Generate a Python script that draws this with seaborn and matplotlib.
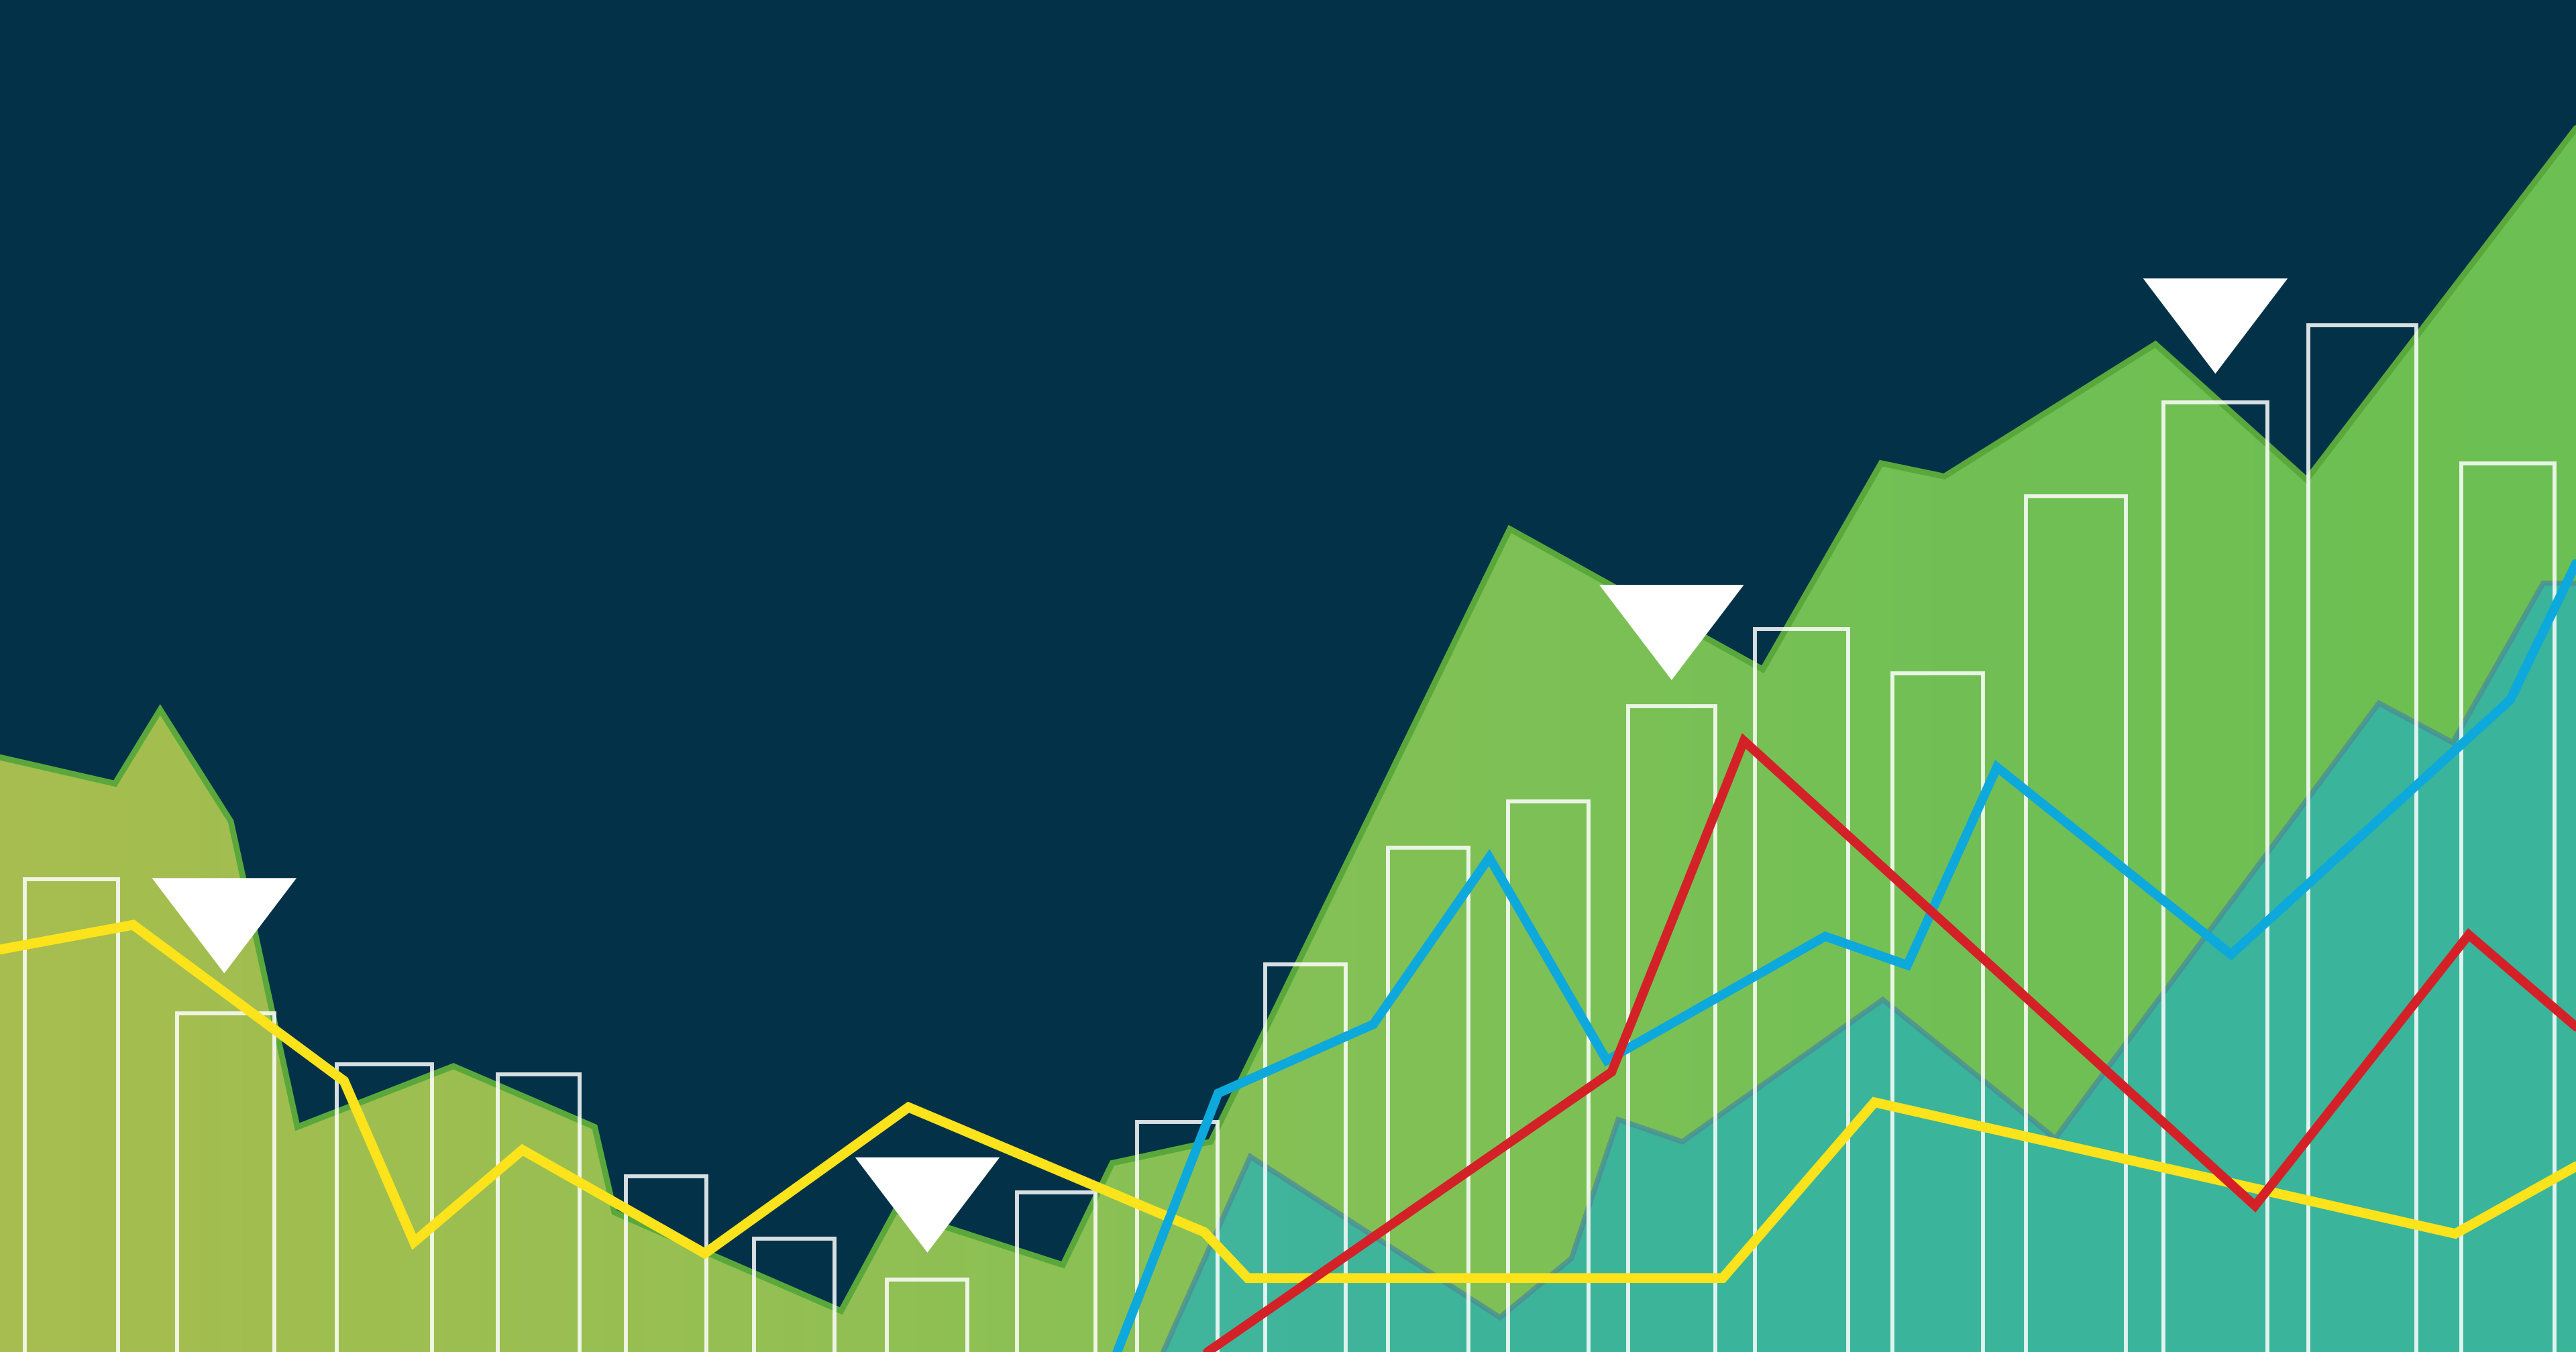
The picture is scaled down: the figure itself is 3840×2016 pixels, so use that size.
import numpy as np
import pandas as pd
import matplotlib
matplotlib.use("Agg")
import matplotlib.pyplot as plt
import seaborn as sns
from matplotlib.colors import LinearSegmentedColormap

# ---------------- data ----------------
# canvas value space: x 0..1568, y 0..823
green_x = [0, 70, 97.5, 140.5, 181, 276, 362, 374, 512, 545, 647, 677, 737, 919, 1073, 1145, 1183.5, 1312, 1404, 1568]
green_y = [362, 346, 391, 323, 137, 174, 137, 85, 25, 86, 53, 115, 128, 501, 415.5, 541, 533, 613.5, 531, 745]

teal_x = [708, 761, 913, 956.5, 985, 1024, 1146, 1251, 1448, 1493, 1548, 1568]
teal_y = [0, 119, 21, 57, 141.5, 128, 214.5, 130, 395, 371, 468, 468]

yellow_x = [0, 81, 209.4, 252, 318, 429, 553, 733, 759.5, 1048.6, 1141, 1494.5, 1568]
yellow_y = [245, 260, 165, 67, 123, 60, 149, 73, 45, 45, 152, 72, 113]

blue_x = [680, 741.5, 836, 906.5, 978, 1111, 1161, 1215.5, 1358, 1528, 1568]
blue_y = [0, 157.5, 199.5, 301, 177.5, 253, 235.5, 356, 242, 397, 480]

red_x = [735, 981, 1061.5, 1372.6, 1502.7, 1568]
red_y = [0, 170.5, 372, 89, 254, 198]

bar_left = [15, 108, 205, 303, 381, 459, 540, 619, 692, 770, 845, 918, 991, 1068, 1152, 1233, 1317, 1405, 1498]
bar_right = [72, 167, 263, 353, 430, 508, 589, 667, 741, 819, 894, 967, 1044, 1125, 1207, 1294, 1380, 1471, 1555]
bar_height = [288, 206, 175, 169, 107, 69, 44, 97, 140, 236, 307, 335, 393, 440, 413, 521, 578, 625, 541]

tri_x = [136.5, 564.5, 1017.5, 1348.5]
tri_y = [259.5, 89.5, 438, 624.5]

# ---------------- style ----------------
BG = "#033248"
W, H = 1568, 823
DPI = 200
PT = (3840 / W) * 72 / DPI  # points per canvas unit

sns.set_theme(style="white")
fig = plt.figure(figsize=(3840 / DPI, 2016 / DPI), dpi=DPI, facecolor=BG)
ax = fig.add_axes([0, 0, 1, 1])
ax.set_facecolor(BG)

def gradient_fill(x, y, colors, z):
    poly = ax.fill_between(x, y, -20, color="none", lw=0, zorder=z)
    cmap = LinearSegmentedColormap.from_list("c", colors)
    grad = np.linspace(0, 1, 1024).reshape(1, -1)
    im = ax.imshow(grad, cmap=cmap, extent=[0, W, -20, H], aspect="auto", zorder=z)
    im.set_clip_path(poly.get_paths()[0], transform=ax.transData)

# green area
gradient_fill(green_x, green_y, ["#a8bd4f", "#98bf52", "#85c156", "#72c055", "#6cbf52"], 1)
sns.lineplot(x=green_x, y=green_y, sort=False, estimator=None, color="#5aa83c",
             lw=3.6 * PT, ax=ax, zorder=2, solid_joinstyle="miter")

# teal area
gradient_fill(teal_x, teal_y, ["#55b7a0", "#45b69c", "#3bb49a", "#3ab59a"], 3)
sns.lineplot(x=teal_x, y=teal_y, sort=False, estimator=None, color="#4a8d98",
             alpha=0.75, lw=3.2 * PT, ax=ax, zorder=4, solid_joinstyle="miter")

# outlined bars
centers = [(l + r) / 2 for l, r in zip(bar_left, bar_right)]
widths = [r - l for l, r in zip(bar_left, bar_right)]
ax.bar(centers, np.array(bar_height) + 10, width=widths, bottom=-10,
       facecolor="none", edgecolor=(1, 1, 1, 0.85), linewidth=2.4 * PT, zorder=5)

# lines
sns.lineplot(x=yellow_x, y=yellow_y, sort=False, estimator=None, color="#fce31b",
             lw=6.0 * PT, ax=ax, zorder=6, solid_joinstyle="miter")
sns.lineplot(x=blue_x, y=blue_y, sort=False, estimator=None, color="#0da8dc",
             lw=5.6 * PT, ax=ax, zorder=7, solid_joinstyle="miter")
sns.lineplot(x=red_x, y=red_y, sort=False, estimator=None, color="#d42128",
             lw=5.6 * PT, ax=ax, zorder=8, solid_joinstyle="miter")

# white down triangles
tri_marker = [(-44, 29), (44, 29), (0, -29), (-44, 29)]
ms = 88 * PT
sns.scatterplot(x=tri_x, y=tri_y, marker=tri_marker, s=ms ** 2, color="white",
                linewidth=0, edgecolor="none", ax=ax, zorder=9)

ax.set_xlim(0, W)
ax.set_ylim(0, H)
ax.axis("off")
if ax.get_legend() is not None:
    ax.get_legend().remove()

fig.savefig("out.png", dpi=DPI, facecolor=BG)
